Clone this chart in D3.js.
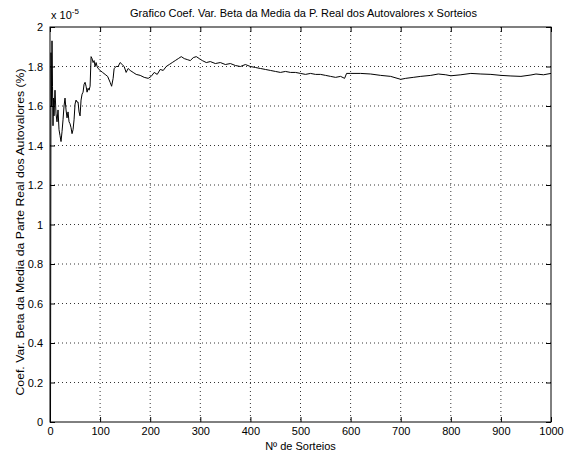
<!DOCTYPE html>
<html lang="pt">
<head>
<meta charset="UTF-8">
<script src="https://d3js.org/d3.v7.min.js"></script>
<title>Grafico Coef. Var. Beta</title>
<style>
  body { margin: 0; background: #fff; font-family: "Liberation Sans", Arial, sans-serif; }
  .axis text { font-size: 11px; fill: #000; }
  .grid line { stroke: #000; stroke-width: 0.8; stroke-dasharray: 1,3; }
</style>
</head>
<body>
<div id="chart"></div>
<script>
// values in units of 1e-5 (%)
const sorteios = [1,2,3,4,5,6,7,8,9,10,12,14,16,18,20,22,24,26,28,30,32,34,36,38,40,42,44,46,48,50,
  52,54,56,58,60,62,64,66,68,70,72,74,76,78,80,82,84,86,88,90,92,94,96,100,105,110,115,120,123,126,
  128,132,136,140,144,148,152,156,160,166,172,180,188,196,202,208,214,220,226,232,238,244,250,256,262,
  268,274,280,286,292,298,304,312,320,330,340,350,360,370,380,390,400,410,420,430,440,450,460,470,480,
  490,500,510,520,530,540,550,560,570,580,588,592,600,620,640,660,680,700,710,725,740,760,775,790,800,
  820,840,860,880,900,920,940,960,970,985,1000];
const coefVar = [0,1.87,1.60,1.93,1.70,1.50,1.64,1.55,1.62,1.68,1.56,1.52,1.58,1.48,1.45,1.42,1.47,1.53,1.60,1.64,
  1.58,1.54,1.57,1.52,1.51,1.49,1.46,1.48,1.53,1.61,1.63,1.62,1.62,1.57,1.55,1.63,1.66,1.67,1.71,1.72,
  1.70,1.67,1.69,1.68,1.70,1.85,1.84,1.82,1.83,1.80,1.82,1.80,1.79,1.78,1.77,1.76,1.75,1.72,1.70,1.74,
  1.79,1.80,1.80,1.82,1.81,1.80,1.77,1.79,1.78,1.77,1.76,1.755,1.745,1.74,1.75,1.77,1.76,1.785,1.78,1.80,
  1.81,1.82,1.83,1.84,1.85,1.84,1.835,1.83,1.845,1.85,1.84,1.83,1.82,1.825,1.815,1.82,1.81,1.815,1.805,1.80,
  1.81,1.80,1.795,1.79,1.785,1.78,1.775,1.77,1.775,1.77,1.77,1.765,1.76,1.765,1.76,1.76,1.755,1.75,1.745,1.75,
  1.74,1.765,1.765,1.765,1.762,1.755,1.75,1.735,1.74,1.745,1.75,1.755,1.762,1.758,1.753,1.758,1.765,1.762,1.76,1.755,
  1.752,1.75,1.757,1.762,1.758,1.765];
const xTicks = d3.range(0, 1001, 100);
const yTicks = [0,0.2,0.4,0.6,0.8,1,1.2,1.4,1.6,1.8,2];

const W = 573, H = 454;
const margin = { top: 27, right: 22, bottom: 32, left: 50 };
const width = W - margin.left - margin.right;
const height = H - margin.top - margin.bottom;

const svg = d3.select("#chart").append("svg")
  .attr("width", W).attr("height", H);

const g = svg.append("g").attr("transform", `translate(${margin.left},${margin.top})`);

const x = d3.scaleLinear().domain([0, 1000]).range([0, width]);
const y = d3.scaleLinear().domain([0, 2]).range([height, 0]);

// grid
g.append("g").attr("class", "grid")
  .selectAll("line").data(xTicks.slice(1, -1)).join("line")
  .attr("x1", d => x(d)).attr("x2", d => x(d)).attr("y1", 0).attr("y2", height);
g.append("g").attr("class", "grid")
  .selectAll("line").data(yTicks.slice(1, -1)).join("line")
  .attr("y1", d => y(d)).attr("y2", d => y(d)).attr("x1", 0).attr("x2", width);

// axes with inward ticks
const tick = 5;
g.append("g").attr("class", "axis").attr("transform", `translate(0,${height})`)
  .call(d3.axisBottom(x).tickValues(xTicks).tickSize(-tick).tickPadding(5).tickFormat(d3.format("d")))
  .call(a => a.select(".domain").remove());
g.append("g").attr("class", "axis")
  .call(d3.axisTop(x).tickValues(xTicks).tickSize(-tick).tickFormat(""))
  .call(a => a.select(".domain").remove());
g.append("g").attr("class", "axis")
  .call(d3.axisLeft(y).tickValues(yTicks).tickSize(-tick).tickPadding(7).tickFormat(d => d3.format("")(+d.toFixed(1))))
  .call(a => a.select(".domain").remove());
g.append("g").attr("class", "axis").attr("transform", `translate(${width},0)`)
  .call(d3.axisRight(y).tickValues(yTicks).tickSize(-tick).tickFormat(""))
  .call(a => a.select(".domain").remove());
g.selectAll(".axis .tick line").attr("stroke", "#000");

g.append("rect").attr("width", width).attr("height", height)
  .attr("fill", "none").attr("stroke", "#000").attr("stroke-width", 1);

// data line
const line = d3.line().x((d, i) => x(sorteios[i])).y(d => y(d));
g.append("path").datum(coefVar)
  .attr("d", line).attr("fill", "none").attr("stroke", "#000").attr("stroke-width", 1);

// exponent
const exp = svg.append("text").attr("x", margin.left + 1).attr("y", 19)
  .style("font-size", "11px");
exp.append("tspan").text("x 10");
exp.append("tspan").attr("dy", -5).style("font-size", "8px").text("-5");

// title and labels
svg.append("text").attr("x", margin.left + width / 2 + 3).attr("y", 17)
  .attr("text-anchor", "middle").style("font-size", "11px")
  .text("Grafico Coef. Var. Beta da Media da P. Real dos Autovalores x Sorteios");
svg.append("text").attr("x", margin.left + width / 2).attr("y", 450)
  .attr("text-anchor", "middle").style("font-size", "11px")
  .text("Nº de Sorteios");
svg.append("text").attr("transform", "translate(24,232) rotate(-90)")
  .attr("text-anchor", "middle").style("font-size", "11.5px")
  .attr("textLength", 327).attr("lengthAdjust", "spacingAndGlyphs")
  .text("Coef. Var. Beta da Media da Parte Real dos Autovalores (%)");
</script>
</body>
</html>
